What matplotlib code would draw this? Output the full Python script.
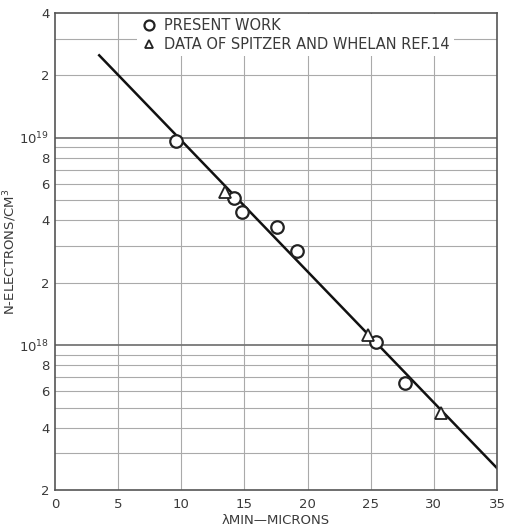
import matplotlib
matplotlib.use("Agg")
import matplotlib.pyplot as plt
from matplotlib.ticker import FixedLocator, FixedFormatter, NullFormatter

# Measured carrier concentration vs. absorption-edge wavelength
present_lambda = [9.6, 14.2, 14.8, 17.6, 19.2, 25.4, 27.7]
present_n = [9.6e18, 5.1e18, 4.4e18, 3.7e18, 2.83e18, 1.04e18, 6.6e17]

spitzer_lambda = [13.5, 24.8, 30.6]
spitzer_n = [5.5e18, 1.12e18, 4.7e17]

# Fitted straight line (semilog)
fit_lambda = [3.5, 35.0]
fit_n = [2.5e19, 2.55e17]

x_ticks = [0, 5, 10, 15, 20, 25, 30, 35]
y_major = [2e17, 4e17, 6e17, 8e17, 1e18, 2e18, 4e18, 6e18, 8e18, 1e19, 2e19, 4e19]
y_labels = ["2", "4", "6", "8", r"$10^{18}$", "2", "4", "6", "8", r"$10^{19}$", "2", "4"]
y_grid = [m * 10.0**e for e in (17, 18, 19) for m in range(2, 10)] + [1e18, 1e19]

text_color = "#3a3a3a"
grid_color = "#aaaaaa"

fig = plt.figure(figsize=(5.05, 5.29), dpi=100)
ax = fig.add_axes([55 / 505, 1 - 490 / 529, 442 / 505, 477 / 529])

ax.set_yscale("log")
ax.set_xlim(0, 35)
ax.set_ylim(2e17, 4e19)

# grid
for x in x_ticks[1:-1]:
    ax.axvline(x, color=grid_color, lw=0.8, zorder=0)
for y in y_grid:
    if y in (1e18, 1e19):
        ax.axhline(y, color="#777777", lw=1.3, zorder=0)
    elif 2e17 < y < 4e19:
        ax.axhline(y, color=grid_color, lw=0.8, zorder=0)

ax.plot(fit_lambda, fit_n, color="#111111", lw=1.8, zorder=2)
ax.plot(present_lambda, present_n, linestyle="none", marker="o", ms=9,
        mfc="white", mec="#222222", mew=1.6, zorder=3, label="PRESENT WORK")
ax.plot(spitzer_lambda, spitzer_n, linestyle="none", marker="^", ms=8,
        mfc="white", mec="#222222", mew=1.3, zorder=3,
        label="DATA OF SPITZER AND WHELAN REF.14")

ax.xaxis.set_major_locator(FixedLocator(x_ticks))
ax.set_xticklabels([str(v) for v in x_ticks])
ax.yaxis.set_major_locator(FixedLocator(y_major))
ax.yaxis.set_major_formatter(FixedFormatter(y_labels))
ax.yaxis.set_minor_formatter(NullFormatter())
ax.tick_params(axis="both", which="both", length=0, colors=text_color,
               labelsize=9.5)
ax.tick_params(axis="x", pad=6)
ax.tick_params(axis="y", pad=4)

for s in ax.spines.values():
    s.set_color("#555555")
    s.set_linewidth(1.2)

ax.set_xlabel("λMIN—MICRONS", color=text_color, fontsize=9.5, labelpad=2)
ax.set_ylabel(r"N-ELECTRONS/CM$^3$", color=text_color, fontsize=9.5)
ax.yaxis.set_label_coords(-0.082, 0.5)

leg = ax.legend(loc="upper left", bbox_to_anchor=(0.17, 1.013), frameon=True,
                facecolor="white", edgecolor="none", framealpha=1.0,
                fontsize=10.5, handlelength=1.0, handletextpad=0.5,
                labelspacing=0.25, borderpad=0.3, markerscale=0.8)
leg.set_zorder(1.5)
for t in leg.get_texts():
    t.set_color(text_color)

fig.savefig("out.png", dpi=100, facecolor="white")
